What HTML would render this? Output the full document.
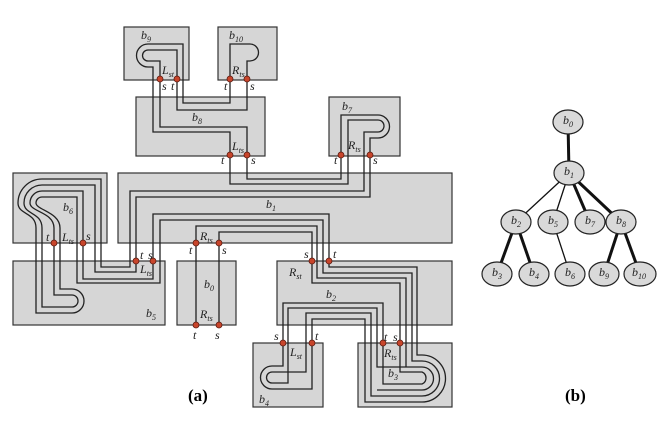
<!DOCTYPE html>
<html><head><style>
body{margin:0;background:#fff;}
svg{display:block;}
text{font-family:"Liberation Serif",serif;font-style:italic;font-size:12px;fill:#222;}
.sub{font-size:8px;}
.bx{fill:#d6d6d6;stroke:#333;stroke-width:1.2;}
.p{fill:none;stroke:#222;stroke-width:1.3;}
.d{fill:#c8452b;stroke:#5a1a10;stroke-width:0.8;}
.lab{font-style:normal;font-weight:bold;font-size:17px;fill:#000;}
</style></head><body>
<svg width="670" height="427" viewBox="0 0 670 427">
<!-- boxes -->
<rect class="bx" x="124" y="27" width="65" height="53"/>
<rect class="bx" x="218" y="27" width="59" height="53"/>
<rect class="bx" x="136" y="97" width="129" height="59"/>
<rect class="bx" x="329" y="97" width="71" height="59"/>
<rect class="bx" x="13" y="173" width="94" height="70"/>
<rect class="bx" x="118" y="173" width="334" height="70"/>
<rect class="bx" x="13" y="261" width="152" height="64"/>
<rect class="bx" x="177" y="261" width="59" height="64"/>
<rect class="bx" x="277" y="261" width="175" height="64"/>
<rect class="bx" x="253" y="343" width="70" height="64"/>
<rect class="bx" x="358" y="343" width="94" height="64"/>
<!-- paths -->
<path class="p" d="M247,155 V127 H160 V61 H148 A5.5,5.5 0 0 1 148,50 H177 V110 H247 V79"/>
<path class="p" d="M230,155 V132 H153 V67 H148 A11.5,11.5 0 0 1 148,44 H183 V103 H230 V79"/>
<path class="p" d="M230,79 V44 H250 A8.5,8.5 0 0 1 250,61 H247 V79"/>
<path class="p" d="M230,155 V184 H348 V120 H378 A6,6 0 0 1 378,132 H364 V191 H130 V267 H101 V179 H42 A24,24 0 0 0 18,203 C18,215 36,212 36,228 V313 H72 A12,12 0 0 0 72,289 H60 V228 C60,212 36,210 36,203 A6,6 0 0 1 42,197 H77 V283 H160 V220 H323 V273 H412 V361 H422 A17.5,17.5 0 0 1 422,396 H371 V313 H306 V372 H272 A5.5,5.5 0 0 0 272,383 H288 V308 H377 V367 H422 A11.5,11.5 0 0 1 422,390 H377"/>
<path class="p" d="M247,155 V179 H341 V115 H378 A11.5,11.5 0 0 1 378,138 H370 V197 H136 V272 H95 V185 H42 A18,18 0 0 0 24,203 C24,215 42,212 42,228 V307 H72 A6,6 0 0 0 72,295 H54 V228 C54,212 30,212 30,203 A12,12 0 0 1 42,191 H83 V279 H153 V214 H329 V267 H417 V355 H422 A23.5,23.5 0 0 1 422,402 H365 V319 H312 V389 H272 A11.5,11.5 0 0 1 272,366 H283 V303 H383 V384 H422 A6.5,6.5 0 0 0 422,372 H400 V283 H312 V232 H219 V325"/>
<path class="p" d="M196,325 V226 H317 V278 H406 V367"/>
<!-- dots -->
<g class="d">
<circle cx="160" cy="79" r="3"/><circle cx="177" cy="79" r="3"/>
<circle cx="230" cy="79" r="3"/><circle cx="247" cy="79" r="3"/>
<circle cx="230" cy="155" r="3"/><circle cx="247" cy="155" r="3"/>
<circle cx="341" cy="155" r="3"/><circle cx="370" cy="155" r="3"/>
<circle cx="54" cy="243" r="3"/><circle cx="83" cy="243" r="3"/>
<circle cx="136" cy="261" r="3"/><circle cx="153" cy="261" r="3"/>
<circle cx="196" cy="243" r="3"/><circle cx="219" cy="243" r="3"/>
<circle cx="196" cy="325" r="3"/><circle cx="219" cy="325" r="3"/>
<circle cx="312" cy="261" r="3"/><circle cx="329" cy="261" r="3"/>
<circle cx="283" cy="343" r="3"/><circle cx="312" cy="343" r="3"/>
<circle cx="383" cy="343" r="3"/><circle cx="400" cy="343" r="3"/>
</g>
<!-- labels -->
<text x="141" y="39">b<tspan class="sub" dy="3">9</tspan></text>
<text x="229" y="39">b<tspan class="sub" dy="3">10</tspan></text>
<text x="162" y="74">L<tspan class="sub" dy="3">st</tspan></text>
<text x="162" y="90">s</text><text x="171" y="90">t</text>
<text x="232" y="74">R<tspan class="sub" dy="3">ts</tspan></text>
<text x="224" y="90">t</text><text x="250" y="90">s</text>
<text x="192" y="121">b<tspan class="sub" dy="3">8</tspan></text>
<text x="232" y="150">L<tspan class="sub" dy="3">ts</tspan></text>
<text x="221" y="164">t</text><text x="251" y="164">s</text>
<text x="342" y="110">b<tspan class="sub" dy="3">7</tspan></text>
<text x="348" y="149">R<tspan class="sub" dy="3">ts</tspan></text>
<text x="334" y="164">t</text><text x="373" y="164">s</text>
<text x="63" y="211">b<tspan class="sub" dy="3">6</tspan></text>
<text x="266" y="208">b<tspan class="sub" dy="3">1</tspan></text>
<text x="46" y="241">t</text><text x="62" y="241">L<tspan class="sub" dy="3">ts</tspan></text><text x="86" y="240">s</text>
<text x="140" y="259">t</text><text x="148" y="259">s</text>
<text x="140" y="273">L<tspan class="sub" dy="3">ts</tspan></text>
<text x="146" y="317">b<tspan class="sub" dy="3">5</tspan></text>
<text x="200" y="240">R<tspan class="sub" dy="3">ts</tspan></text>
<text x="189" y="254">t</text><text x="222" y="254">s</text>
<text x="204" y="288">b<tspan class="sub" dy="3">0</tspan></text>
<text x="200" y="318">R<tspan class="sub" dy="3">ts</tspan></text>
<text x="193" y="339">t</text><text x="215" y="339">s</text>
<text x="304" y="258">s</text><text x="333" y="258">t</text>
<text x="289" y="276">R<tspan class="sub" dy="3">st</tspan></text>
<text x="326" y="298">b<tspan class="sub" dy="3">2</tspan></text>
<text x="274" y="340">s</text><text x="315" y="340">t</text>
<text x="290" y="356">L<tspan class="sub" dy="3">st</tspan></text>
<text x="384" y="341">t</text><text x="393" y="341">s</text>
<text x="384" y="357">R<tspan class="sub" dy="3">ts</tspan></text>
<text x="388" y="377">b<tspan class="sub" dy="3">3</tspan></text>
<text x="259" y="403">b<tspan class="sub" dy="3">4</tspan></text>
<text class="lab" x="188" y="401">(a)</text>
<text class="lab" x="565" y="401">(b)</text>
<!-- tree -->
<g stroke="#111" fill="none">
<line x1="568" y1="122" x2="569" y2="173" stroke-width="3"/>
<line x1="569" y1="173" x2="516" y2="222" stroke-width="1.3"/>
<line x1="569" y1="173" x2="553" y2="222" stroke-width="1.3"/>
<line x1="569" y1="173" x2="590" y2="222" stroke-width="3"/>
<line x1="569" y1="173" x2="621" y2="222" stroke-width="3"/>
<line x1="516" y1="222" x2="497" y2="274" stroke-width="3"/>
<line x1="516" y1="222" x2="534" y2="274" stroke-width="3"/>
<line x1="553" y1="222" x2="570" y2="274" stroke-width="1.3"/>
<line x1="621" y1="222" x2="604" y2="274" stroke-width="3"/>
<line x1="621" y1="222" x2="640" y2="274" stroke-width="3"/>
</g>
<g fill="#d9d9d9" stroke="#222" stroke-width="1.2">
<ellipse cx="568" cy="122" rx="15" ry="12"/><ellipse cx="569" cy="173" rx="15" ry="12"/>
<ellipse cx="516" cy="222" rx="15" ry="12"/><ellipse cx="553" cy="222" rx="15" ry="12"/>
<ellipse cx="590" cy="222" rx="15" ry="12"/><ellipse cx="621" cy="222" rx="15" ry="12"/>
<ellipse cx="497" cy="274" rx="15" ry="12"/><ellipse cx="534" cy="274" rx="15" ry="12"/>
<ellipse cx="570" cy="274" rx="15" ry="12"/><ellipse cx="604" cy="274" rx="15" ry="12"/>
<ellipse cx="640" cy="274" rx="16" ry="12"/>
</g>
<text x="563" y="124">b<tspan class="sub" dy="3">0</tspan></text>
<text x="564" y="175">b<tspan class="sub" dy="3">1</tspan></text>
<text x="511" y="224">b<tspan class="sub" dy="3">2</tspan></text>
<text x="548" y="224">b<tspan class="sub" dy="3">5</tspan></text>
<text x="585" y="224">b<tspan class="sub" dy="3">7</tspan></text>
<text x="616" y="224">b<tspan class="sub" dy="3">8</tspan></text>
<text x="492" y="276">b<tspan class="sub" dy="3">3</tspan></text>
<text x="529" y="276">b<tspan class="sub" dy="3">4</tspan></text>
<text x="565" y="276">b<tspan class="sub" dy="3">6</tspan></text>
<text x="599" y="276">b<tspan class="sub" dy="3">9</tspan></text>
<text x="632" y="276">b<tspan class="sub" dy="3">10</tspan></text>
</svg>
</body></html>
